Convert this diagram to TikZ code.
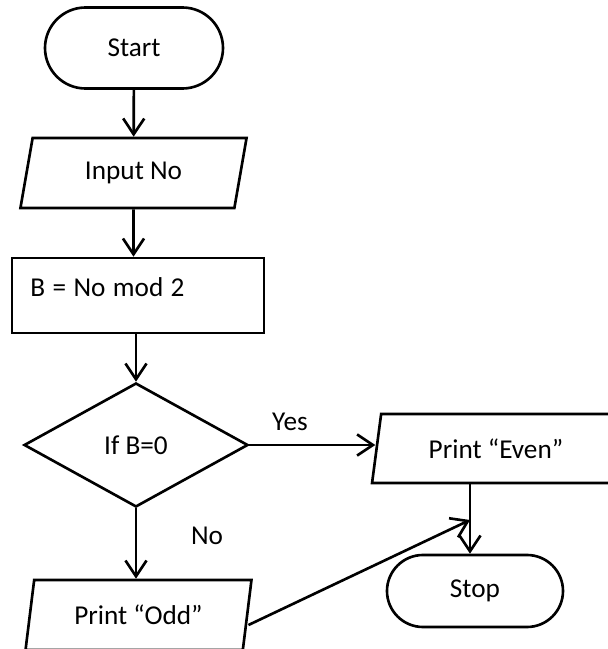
\documentclass[tikz,border=0pt]{standalone}
\usepackage{fontspec}
\setmainfont{Carlito}
\usepackage{tikz}
\usetikzlibrary{arrows.meta, positioning, shapes.geometric, shapes.misc}

\begin{document}
\begin{tikzpicture}[
    line width=1.5pt,
    font=\fontsize{15.5}{18}\selectfont,
    term/.style={draw, rounded rectangle, minimum width=3.56cm, minimum height=1.62cm, inner sep=0pt},
    io/.style={draw, trapezium, trapezium left angle=75, trapezium right angle=105, trapezium stretches=true, minimum width=4.54cm, minimum height=1.4cm, inner sep=0pt},
    proc/.style={draw, rectangle, minimum height=1.5cm, text width=4.3cm, inner xsep=0.37cm, align=left},
    decision/.style={draw, diamond, minimum width=4.48cm, minimum height=2.48cm, inner sep=0pt, aspect=1.8},
    arr/.style={-{Straight Barb[length=9pt, width=12pt]}}
]
    \useasboundingbox (0,0) rectangle (12.16,12.98);

    % Main column
    \node[term] (start) at (2.68,12.02) {Start};
    \node[io] (input) at (2.67,9.52) {Input No};
    \node[proc, text depth=0.35cm] (mod) at (2.76,7.07) {\spaceskip=0.27em B = No mod 2};
    \node[decision] (dec) at (2.72,4.08) {If B=0};
    \node[io] (odd) at (2.77,0.68) {Print “Odd”};

    % Right column
    \node[io, minimum width=4.96cm, minimum height=1.38cm] (even) at (9.92,4.01) {Print “Even”};
    \node[term, minimum width=3.52cm, minimum height=1.44cm] (stop) at (9.5,1.16) {Stop};
    \coordinate (merge) at (9.4,2.58);

    % Branch labels
    \node (yes) at (5.8,4.54) {Yes};
    \node (no) at (4.14,2.26) {No};

    % Arrows
    \draw[arr] (start) -- (input);
    \draw[arr] (input) -- (input |- mod.north);
    \draw[arr] (mod.south -| dec) -- (dec.north);
    \draw[arr] (dec.east) -- (dec.east -| even.west);
    \draw[arr] (dec.south) -- (dec.south |- odd.north);
    \draw[arr] (even.south -| merge) -- (stop.north -| merge);
    \draw[arr] ([yshift=-0.2cm]odd.east) -- (merge);
\end{tikzpicture}
\end{document}
